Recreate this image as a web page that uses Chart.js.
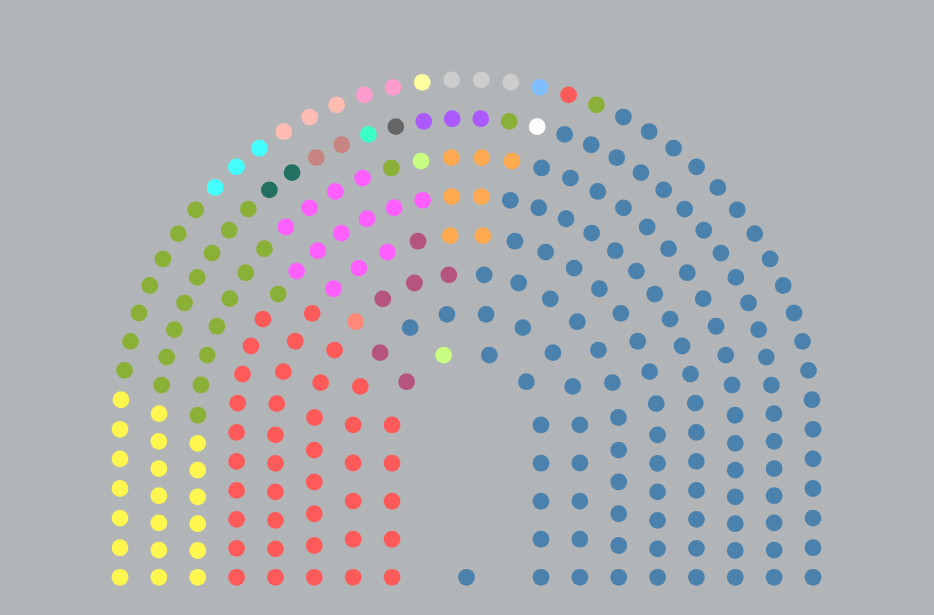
<!DOCTYPE html>
<html>
<head>
<meta charset="utf-8">
<script src="https://cdn.jsdelivr.net/npm/chart.js@4"></script>
<style>
  html, body { margin: 0; padding: 0; background: #b1b5b8; }
  #wrap { width: 934px; height: 615px; position: relative; }
</style>
</head>
<body>
<div id="wrap"><canvas id="c"></canvas></div>
<script>
// ---- Data: seats of each bloc, row by row (outer row first), listed left to right ----
const row1 = [['Y', 7], ['G', 7], ['C', 3], ['SA', 3], ['PK', 2], ['LY', 1], ['GY', 3], ['LB', 1], ['R', 1], ['G', 1], ['B', 19]];
const row2 = [['Y', 7], ['G', 8], ['T', 2], ['RB', 2], ['MT', 1], ['DG', 1], ['PU', 3], ['G', 1], ['W', 1], ['B', 20]];
const row3 = [['Y', 6], ['G', 7], ['MG', 4], ['G', 1], ['LG', 1], ['O', 3], ['B', 18]];
const row4 = [['R', 10], ['G', 1], ['MG', 6], ['O', 2], ['B', 17]];
const row5 = [['R', 10], ['MG', 3], ['MR', 1], ['O', 2], ['B', 14]];
const row6 = [['R', 8], ['LR', 1], ['MR', 3], ['B', 12]];
const row7 = [['R', 6], ['MR', 1], ['B', 11]];
const row8 = [['R', 5], ['MR', 1], ['LG', 1], ['B', 7]];
const row9 = [['B', 1]];
const rows = [row1, row2, row3, row4, row5, row6, row7, row8, row9];

// ---- Styles ----
const partyColors = {
  Y: '#fff64f', G: '#8ab037', C: '#44ffff', SA: '#ffbcb2', PK: '#ff9bcd', LY: '#ffffa0',
  GY: '#cdcdcd', LB: '#80beff', R: '#ff5a5a', W: '#ffffff', T: '#237062', RB: '#c88480',
  MT: '#3cffc8', DG: '#666666', PU: '#aa5aff', MG: '#ff5fff', LG: '#c8ff80', O: '#ffaa50',
  MR: '#b65480', LR: '#ff8878', B: '#4a81ad'
};

// ---- Layout of the horseshoe (pixels in the 934x615 frame) ----
const CX = 466.5, CY = 426, BOTTOM = 577.3, OUTER_R = 346.5, GAP = 38.86;
const legSqueeze = [1, 0.953, 0.879, 0.985, 0.872, 0.896, 0.969, 0.82, 1];

function seatPositions(rowIndex, n) {
  const r = Math.max(0, OUTER_R - rowIndex * GAP);
  if (rowIndex >= 8 || n === 1) return [{x: CX, y: BOTTOM}];
  const L = BOTTOM - CY;
  const w = legSqueeze[rowIndex];
  const sa = (2 * L / w + Math.PI * r) / (n - 1);
  const sl = w * sa;
  const legUnits = L / sl;
  const pts = [];
  for (let i = 0; i < n; i++) {
    const u = i;
    if (u <= legUnits) {
      pts.push({x: CX - r, y: BOTTOM - u * sl});
    } else if (u >= (n - 1) - legUnits) {
      pts.push({x: CX + r, y: BOTTOM - ((n - 1) - u) * sl});
    } else {
      const th = (u - legUnits) * sa / r;
      pts.push({x: CX - r * Math.cos(th), y: CY - r * Math.sin(th)});
    }
  }
  return pts;
}

const byParty = {};
rows.forEach((row, ri) => {
  const n = row.reduce((s, p) => s + p[1], 0);
  const pts = seatPositions(ri, n);
  let k = 0;
  row.forEach(([party, count]) => {
    (byParty[party] = byParty[party] || []);
    for (let j = 0; j < count; j++) byParty[party].push(pts[k++]);
  });
});

const datasets = Object.keys(byParty).map(p => ({
  label: p,
  data: byParty[p],
  backgroundColor: partyColors[p],
  borderWidth: 0,
  pointRadius: 8.4,
  pointHoverRadius: 8.4,
  clip: false
}));

new Chart(document.getElementById('c'), {
  type: 'scatter',
  data: { datasets },
  options: {
    responsive: true,
    maintainAspectRatio: false,
    animation: false,
    layout: { padding: 0, autoPadding: false },
    plugins: { legend: { display: false }, tooltip: { enabled: false } },
    scales: {
      x: { type: 'linear', display: false, min: 0, max: 934 },
      y: { type: 'linear', display: false, min: 0, max: 615, reverse: true }
    }
  }
});
</script>
</body>
</html>
